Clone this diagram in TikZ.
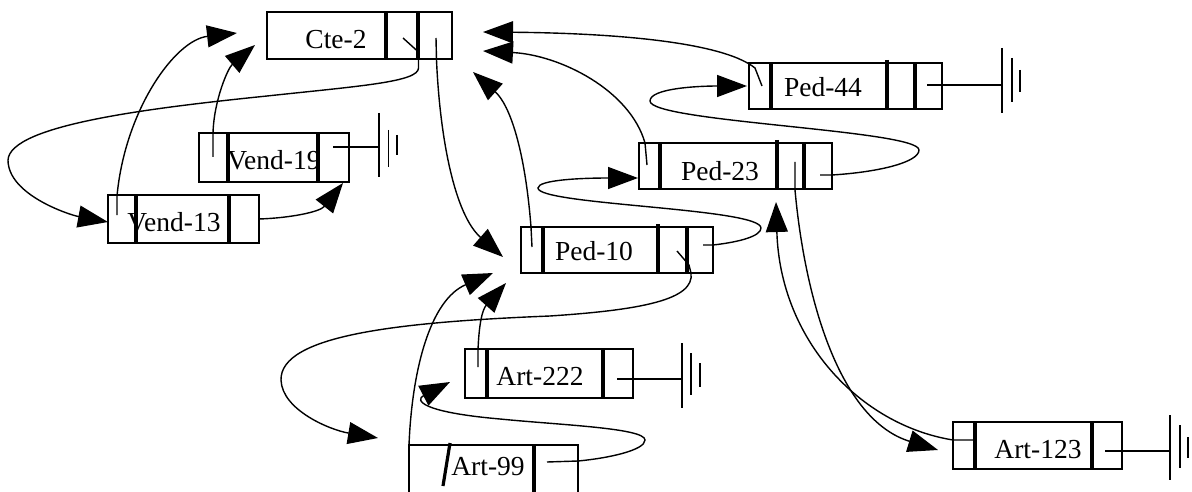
\documentclass[tikz,border=0pt]{standalone}
\usepackage{fontspec}
\setmainfont{Liberation Serif}
\usetikzlibrary{arrows.meta}
\begin{document}
\begin{tikzpicture}[x=1pt,y=-1pt,
  box/.style={draw, line width=1.6pt, rectangle, inner sep=0pt, outer sep=0pt},
  lbl/.style={anchor=base, font=\fontsize{27.5}{30}\selectfont, inner sep=0pt},
  sep/.style={line width=3.2pt},
  link/.style={line width=1.4pt},
  arr/.style={link, -{Triangle[length=30pt,width=22pt]}},
  gnd/.style={line width=1.7pt}]
\useasboundingbox (0,0) rectangle (1192,492);
\fill[white] (0,0) rectangle (1192,492);
\clip (0,0) rectangle (1192,492);

% ---------- boxes ----------
\node[box, minimum width=185pt, minimum height=47pt] (cte) at (359.5,35.5) {};
\node[box, minimum width=150pt, minimum height=49pt] (v19) at (274,157.5) {};
\node[box, minimum width=151pt, minimum height=48pt] (v13) at (183.5,219) {};
\node[box, minimum width=193pt, minimum height=46pt] (p44) at (845.5,86) {};
\node[box, minimum width=193pt, minimum height=46pt] (p23) at (735.5,166) {};
\node[box, minimum width=192pt, minimum height=46pt] (p10) at (617,250) {};
\node[box, minimum width=168pt, minimum height=49pt] (a222) at (549,373.5) {};
\node[box, minimum width=169pt, minimum height=60pt] (a99) at (493.5,475) {};
\node[box, minimum width=169pt, minimum height=47pt] (a123) at (1037.5,445.5) {};

% ---------- dividers ----------
\draw[sep] (386,12) -- (386,59);  \draw[sep] (418,12) -- (418,59);
\draw[sep] (228,133) -- (228,182); \draw[sep] (318,133) -- (318,182);
\draw[sep] (136,195) -- (136,243); \draw[sep] (229,195) -- (229,243);
\draw[sep] (771,63) -- (771,109); \draw[sep] (887,60) -- (887,109); \draw[sep] (915,63) -- (915,109);
\draw[sep] (660,143) -- (660,189); \draw[sep] (777,140) -- (777,189); \draw[sep] (804,143) -- (804,189);
\draw[sep] (543,227) -- (543,273); \draw[sep] (658,224) -- (658,273); \draw[sep] (687,227) -- (687,273);
\draw[sep] (487,349) -- (487,398); \draw[sep] (603,349) -- (603,398);
\draw[sep] (450,443) -- (443,486); \draw[sep] (534,445) -- (534,492);
\draw[sep] (975,422) -- (975,469); \draw[sep] (1092,422) -- (1092,469);

% ---------- labels ----------
\node[lbl] (cteT) at (336,48.3) {Cte-2};
\node[lbl] (v19T) at (274,170) {Vend-19};
\node[lbl] (v13T) at (174,231.7) {Vend-13};
\node[lbl] (p44T) at (823,96.7) {Ped-44};
\node[lbl] (p23T) at (720,181) {Ped-23};
\node[lbl] (p10T) at (594,260) {Ped-10};
\node[lbl] (a222T) at (540,385) {Art-222};
\node[lbl] (a99T) at (488,475) {Art-99};
\node[lbl] (a123T) at (1038,458.3) {Art-123};

% ---------- connector ends ----------
\coordinate (s1) at (403,38);   \coordinate (t1) at (108,222);
\coordinate (s2) at (117,215);  \coordinate (t2) at (237,33);
\coordinate (s3) at (213,157);  \coordinate (t3) at (255,45);
\coordinate (t4) at (343,183);
\coordinate (s5) at (436,38);   \coordinate (t5) at (503,257);
\coordinate (s6) at (762,86);   \coordinate (t6) at (483,32);
\coordinate (s7) at (647,165);  \coordinate (t7) at (483,51);
\coordinate (s8) at (532,247);  \coordinate (t8) at (473,72);
\coordinate (s9) at (820,175);  \coordinate (t9) at (747,86);
\coordinate (s10) at (703,245); \coordinate (t10) at (638,178);
\coordinate (s11) at (677,251); \coordinate (t11) at (378,438);
\coordinate (s12) at (478,367); \coordinate (t12) at (506,283);
\coordinate (t13) at (493,273);
\coordinate (s14) at (547,462); \coordinate (t14) at (450,382);
\coordinate (s15) at (795,162); \coordinate (t15) at (938,450);
\coordinate (s16) at (973,440); \coordinate (t16) at (776,202);

% ---------- connectors ----------
\draw[arr] (s1) -- (418.5,52) -- (418.5,68) .. controls (418.5,82) and (360,86) .. (267,96)
  .. controls (150,108) and (10,125) .. (8,160) .. controls (8,195) and (70,215) .. (t1);
\draw[arr] (s2) -- (117,196) .. controls (125,110) and (175,40) .. (t2);
\draw[arr] (s3) -- (213,133) .. controls (214,100) and (228,68) .. (t3);
\draw[arr] (v13.east) .. controls (290,218) and (320,212) .. (t4);
\draw[arr] (s5) -- (436.5,60) .. controls (440,140) and (455,215) .. (t5);
\draw[arr] (s6) -- (755,68) .. controls (720,40) and (600,33) .. (t6);
\draw[arr] (s7) -- (645,143) .. controls (630,90) and (560,55) .. (t7);
\draw[arr] (s8) -- (531,227) .. controls (525,150) and (510,105) .. (t8);
\draw[arr] (s9) -- (832,175) .. controls (880,172) and (919,162) .. (919,150)
  .. controls (919,130) and (650,122) .. (650,101) .. controls (650,88) and (700,86) .. (t9);
\draw[arr] (s10) -- (713,245) .. controls (740,242) and (761,236) .. (761,228)
  .. controls (761,208) and (538,205) .. (538,188) .. controls (538,180) and (580,178) .. (t10);
\draw[arr] (s11) -- (689,265) -- (691,273) .. controls (695,300) and (640,310) .. (550,316)
  .. controls (400,322) and (280,335) .. (281,380) .. controls (282,410) and (330,430) .. (t11);
\draw[arr] (s12) -- (478,350) .. controls (479,325) and (482,310) .. (t12);
\draw[arr] (a99.north west) .. controls (412,370) and (430,300) .. (t13);
\draw[arr] (s14) -- (578,461) .. controls (610,458) and (645,450) .. (645,440)
  .. controls (645,428) and (560,425) .. (500,419) .. controls (420,412) and (415,400) .. (t14);
\draw[arr] (s15) -- (795,190) .. controls (805,300) and (840,420) .. (t15);
\draw[arr] (s16) -- (953,440) .. controls (860,425) and (780,340) .. (t16);

% ---------- null pointers (ground) ----------
\coordinate (n19) at (333,147);  \coordinate (g19) at (379,147);
\draw[link] (n19) -- (g19);
\draw[gnd] (379,113) -- (379,177); \draw[gnd] (388.5,130) -- (388.5,167); \draw[gnd] (397,135) -- (397,155);

\coordinate (n44) at (927,85);   \coordinate (g44) at (1002,85);
\draw[link] (n44) -- (g44);
\draw[gnd] (1002,48) -- (1002,113); \draw[gnd] (1012,58) -- (1012,102); \draw[gnd] (1020,70) -- (1020,92);

\coordinate (n222) at (617,379); \coordinate (g222) at (682,379);
\draw[link] (n222) -- (g222);
\draw[gnd] (682,343) -- (682,408); \draw[gnd] (691,353) -- (691,395); \draw[gnd] (700,363) -- (700,387);

\coordinate (n123) at (1105,451); \coordinate (g123) at (1170,451);
\draw[link] (n123) -- (g123);
\draw[gnd] (1170,415) -- (1170,480); \draw[gnd] (1180,425) -- (1180,468); \draw[gnd] (1188,437) -- (1188,458);
\end{tikzpicture}
\end{document}
